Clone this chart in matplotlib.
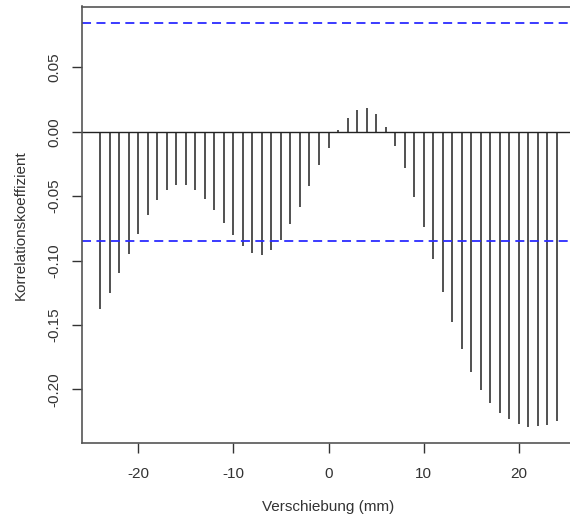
import numpy as np
import matplotlib
matplotlib.use("Agg")
import matplotlib.pyplot as plt

plt.rcParams['font.family'] = ['Liberation Sans', 'DejaVu Sans']

lags = list(range(-24, 25))
acf_values = [
    -0.1377, -0.1249, -0.1100, -0.0949, -0.0795, -0.0649, -0.0531, -0.0454,
    -0.0415, -0.0415, -0.0454, -0.0523, -0.0608, -0.0705, -0.0803, -0.0890,
    -0.0938, -0.0956, -0.0918, -0.0844, -0.0715, -0.0582, -0.0423, -0.0262,
    -0.0126,
    0.0010, 0.0105, 0.0167, 0.0185, 0.0136, 0.0038, -0.0108, -0.0282,
    -0.0505, -0.0736, -0.0990, -0.1241, -0.1474, -0.1687, -0.1862, -0.2008,
    -0.2103, -0.2180, -0.2233, -0.2269, -0.2290, -0.2287, -0.2279, -0.2241,
]
ci_bound = 0.0846
x_ticks = [-20, -10, 0, 10, 20]
y_ticks = [0.05, 0.00, -0.05, -0.10, -0.15, -0.20]
y_ticklabels = ["0.05", "0.00", "-0.05", "-0.10", "-0.15", "-0.20"]
x_label = "Verschiebung (mm)"
y_label = "Korrelationskoeffizient"

W, H = 570, 525
fig = plt.figure(figsize=(W / 100, H / 100), dpi=100)
ax = fig.add_axes([82 / W, (H - 443) / H, (575 - 82) / W, (443 - 6.5) / H])

ax.vlines(lags, 0, acf_values, colors="#222222", linewidth=1.1)
ax.axhline(0, color="#222222", linewidth=1.0)
ax.axhline(ci_bound, color="#2b2bff", linewidth=1.3, linestyle=(0, (5, 3)))
ax.axhline(-ci_bound, color="#2b2bff", linewidth=1.3, linestyle=(0, (5, 3)))

xr = max(lags) - min(lags)
ax.set_xlim(min(lags) - 0.04 * xr, max(lags) + 0.04 * xr)
ymin = min(min(acf_values), -ci_bound)
ymax = max(max(acf_values), ci_bound)
yr = ymax - ymin
ax.set_ylim(ymin - 0.04 * yr, ymax + 0.04 * yr)

ax.set_xticks(x_ticks)
ax.set_xticklabels([str(t) for t in x_ticks])
ax.set_yticks(y_ticks)
ax.set_yticklabels(y_ticklabels, rotation=90, va="center")

for s in ax.spines.values():
    s.set_color("#555555")
    s.set_linewidth(1.2)

ax.tick_params(axis="both", direction="out", length=7, width=1.0, color="#333333",
               labelsize=11, labelcolor="#333333")
ax.tick_params(axis="x", pad=10)
ax.tick_params(axis="y", pad=8)

ax.set_xlabel(x_label, fontsize=11, color="#333333", labelpad=14)
ax.set_ylabel(y_label, fontsize=11, color="#333333", labelpad=14)

fig.savefig("out.png", dpi=100)
